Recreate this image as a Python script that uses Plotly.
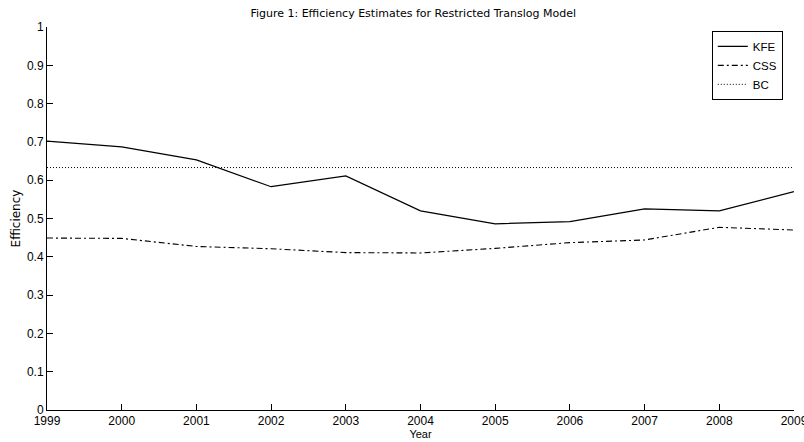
import plotly.graph_objects as go

years = [1999, 2000, 2001, 2002, 2003, 2004, 2005, 2006, 2007, 2008, 2009]
kfe = [0.702, 0.687, 0.653, 0.583, 0.611, 0.520, 0.486, 0.492, 0.525, 0.520, 0.570]
css = [0.449, 0.448, 0.427, 0.421, 0.411, 0.410, 0.422, 0.437, 0.444, 0.477, 0.470]
bc = [0.633] * len(years)
y_ticks = [0, 0.1, 0.2, 0.3, 0.4, 0.5, 0.6, 0.7, 0.8, 0.9, 1]
y_tick_labels = ["0", "0.1", "0.2", "0.3", "0.4", "0.5", "0.6", "0.7", "0.8", "0.9", "1"]

font = "Liberation Sans, Arial, sans-serif"
wide = "DejaVu Sans, Verdana, sans-serif"

fig = go.Figure()
fig.add_trace(go.Scatter(x=years, y=kfe, mode="lines", name="KFE",
                         line=dict(color="black", width=1.2)))
fig.add_trace(go.Scatter(x=years, y=css, mode="lines", name="CSS",
                         line=dict(color="black", width=1.1, dash="6px,3px,2px,3px")))
fig.add_trace(go.Scatter(x=years, y=bc, mode="lines", name="BC",
                         line=dict(color="black", width=1.0, dash="1px,2px")))

fig.update_layout(
    width=804, height=442,
    margin=dict(l=47, r=10, t=27, b=32, autoexpand=False),
    paper_bgcolor="white", plot_bgcolor="white",
    font=dict(family=font, size=12, color="black"),
    title=dict(text="Figure 1: Efficiency Estimates for Restricted Translog Model",
               x=0.514, xanchor="center", y=0.97, yanchor="middle",
               font=dict(size=11, family=wide, color="black")),
    showlegend=True,
    legend=dict(x=0.985, xanchor="right", y=0.99, yanchor="top",
                bordercolor="black", borderwidth=1, bgcolor="white",
                font=dict(size=11.5, family=font), itemwidth=30,
                tracegroupgap=0),
)
fig.update_xaxes(range=[1999, 2009], tickmode="array", tickvals=years,
                 ticktext=[str(y) for y in years],
                 ticks="inside", ticklen=6, tickcolor="black", tickwidth=1,
                 showline=True, linecolor="black", linewidth=1, mirror=False,
                 showgrid=False, zeroline=False, automargin=False,
                 ticklabeloverflow="allow",
                 tickfont=dict(size=12, family=font),
                 title=dict(text="Year", standoff=0, font=dict(size=11, family=font)))
fig.update_yaxes(range=[0, 1], tickmode="array", tickvals=y_ticks, ticktext=y_tick_labels,
                 ticks="inside", ticklen=6, tickcolor="black", tickwidth=1,
                 showline=True, linecolor="black", linewidth=1, mirror=False,
                 showgrid=False, zeroline=False, automargin=False,
                 ticklabeloverflow="allow",
                 tickfont=dict(size=12, family=font),
                 title=dict(text="Efficiency", standoff=3, font=dict(size=12, family=wide)))

fig.write_html("out.html", config={"displayModeBar": False},
               post_script="document.body.style.margin='0';document.body.style.overflow='hidden';")
